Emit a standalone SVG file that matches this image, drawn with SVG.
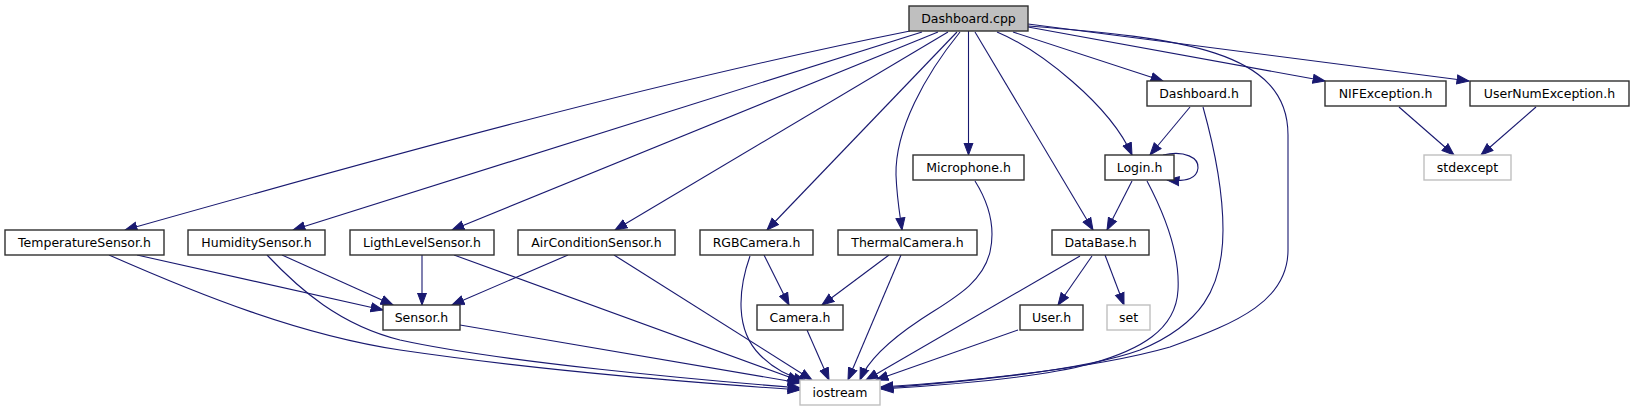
<svg xmlns="http://www.w3.org/2000/svg" width="1635" height="411" viewBox="0 0 1635 411">
<style>
.n rect{fill:#ffffff;stroke:#303030;stroke-width:1.4}
.n.root rect{fill:#bfbfbf}
.n.ext rect{stroke:#bfbfbf}
.n text{font-family:"DejaVu Sans",sans-serif;font-size:12.5px;fill:#000000;text-anchor:middle}
#edges path{fill:none;stroke:#191970;stroke-width:1.1;marker-end:url(#arr)}
</style>
<defs>
<marker id="arr" markerUnits="userSpaceOnUse" markerWidth="14" markerHeight="11" refX="12.5" refY="5.5" orient="auto">
<path d="M0.5,1 L12.5,5.5 L0.5,10 z" fill="#191970" stroke="#191970" stroke-width="1"/>
</marker>
</defs>
<rect width="1635" height="411" fill="#ffffff"/>
<g id="edges">
<path d="M910,31 C650,83 387,156 125,230"/>
<path d="M922,32 L293,230"/>
<path d="M938,32 L452,230"/>
<path d="M948,32 L615,230"/>
<path d="M957,32 L767,230"/>
<path d="M960,32 C925,75 895,130 896,175 C897,200 900,215 902,230"/>
<path d="M968.5,31 L968.5,155"/>
<path d="M975,32 L1093,230"/>
<path d="M997,32 C1040,50 1110,105 1132,155"/>
<path d="M1013,32 L1163,81"/>
<path d="M1028,27 L1325,81"/>
<path d="M1028,24 L1469,81"/>
<path d="M1028,26 C1180,38 1288,50 1288,135 L1288,250 C1288,300 1240,322 1170,347 C1090,370 950,383 881,387"/>
<path d="M1190,107 L1150,155"/>
<path d="M1203,107 C1215,150 1223,190 1223,230 C1223,290 1200,325 1140,350 C1080,372 950,383 881,388"/>
<path d="M1163,155 C1185,150 1199,158 1198,168 C1197,178 1188,182 1167,180"/>
<path d="M1132,181 L1107,230"/>
<path d="M1147,181 C1165,215 1180,255 1178,290 C1176,330 1140,350 1090,364 C1040,377 950,385 881,389"/>
<path d="M1399,107 L1454,155"/>
<path d="M1536,107 L1481,155"/>
<path d="M137,255 L383,310"/>
<path d="M109,255 C200,295 300,335 400,350 C550,372 700,383 800,390"/>
<path d="M282,255 L393,305"/>
<path d="M267,255 C300,290 340,325 400,340 C500,362 700,380 800,388"/>
<path d="M422,255 L422,305"/>
<path d="M454,255 L800,381"/>
<path d="M568,255 L452,305"/>
<path d="M614,255 L812,380"/>
<path d="M764,255 L789,305"/>
<path d="M750,256 C738,290 735,330 760,355 C775,370 790,377 806,381"/>
<path d="M889,255 L822,305"/>
<path d="M901,255 L848,380"/>
<path d="M975,181 C990,205 995,230 990,252 C982,285 950,300 920,320 C890,340 868,360 860,380"/>
<path d="M1092,256 L1058,305"/>
<path d="M1105,255 L1124,305"/>
<path d="M1080,256 L866,380"/>
<path d="M460,325 L800,383"/>
<path d="M807,330 L829,380"/>
<path d="M1018,330 L876,380"/>
</g>
<g id="node-dashboard-cpp" class="n root"><rect x="909" y="6" width="119" height="25"/><text x="968.5" y="23">Dashboard.cpp</text></g>
<g id="node-dashboard-h" class="n"><rect x="1147" y="81" width="104" height="25"/><text x="1199" y="98">Dashboard.h</text></g>
<g id="node-nifexception-h" class="n"><rect x="1325" y="81" width="121" height="25"/><text x="1385.5" y="98">NIFException.h</text></g>
<g id="node-usernumexception-h" class="n"><rect x="1470" y="81" width="159" height="25"/><text x="1549.5" y="98">UserNumException.h</text></g>
<g id="node-stdexcept" class="n ext"><rect x="1424" y="155" width="87" height="25"/><text x="1467.5" y="172">stdexcept</text></g>
<g id="node-login-h" class="n"><rect x="1105" y="155" width="69" height="25"/><text x="1139.5" y="172">Login.h</text></g>
<g id="node-microphone-h" class="n"><rect x="913" y="155" width="111" height="25"/><text x="968.5" y="172">Microphone.h</text></g>
<g id="node-temperaturesensor-h" class="n"><rect x="5" y="230" width="159" height="25"/><text x="84.5" y="247">TemperatureSensor.h</text></g>
<g id="node-humiditysensor-h" class="n"><rect x="188" y="230" width="137" height="25"/><text x="256.5" y="247">HumiditySensor.h</text></g>
<g id="node-ligthlevelsensor-h" class="n"><rect x="350" y="230" width="144" height="25"/><text x="422" y="247">LigthLevelSensor.h</text></g>
<g id="node-airconditionsensor-h" class="n"><rect x="518" y="230" width="157" height="25"/><text x="596.5" y="247">AirConditionSensor.h</text></g>
<g id="node-rgbcamera-h" class="n"><rect x="700" y="230" width="113" height="25"/><text x="756.5" y="247">RGBCamera.h</text></g>
<g id="node-thermalcamera-h" class="n"><rect x="838" y="230" width="139" height="25"/><text x="907.5" y="247">ThermalCamera.h</text></g>
<g id="node-database-h" class="n"><rect x="1052" y="230" width="97" height="25"/><text x="1100.5" y="247">DataBase.h</text></g>
<g id="node-sensor-h" class="n"><rect x="383" y="305" width="77" height="25"/><text x="421.5" y="322">Sensor.h</text></g>
<g id="node-camera-h" class="n"><rect x="757" y="305" width="86" height="25"/><text x="800" y="322">Camera.h</text></g>
<g id="node-user-h" class="n"><rect x="1020" y="305" width="63" height="25"/><text x="1051.5" y="322">User.h</text></g>
<g id="node-set" class="n ext"><rect x="1107" y="305" width="43" height="25"/><text x="1128.5" y="322">set</text></g>
<g id="node-iostream" class="n ext"><rect x="800" y="380" width="80" height="25"/><text x="840" y="397">iostream</text></g>
</svg>
